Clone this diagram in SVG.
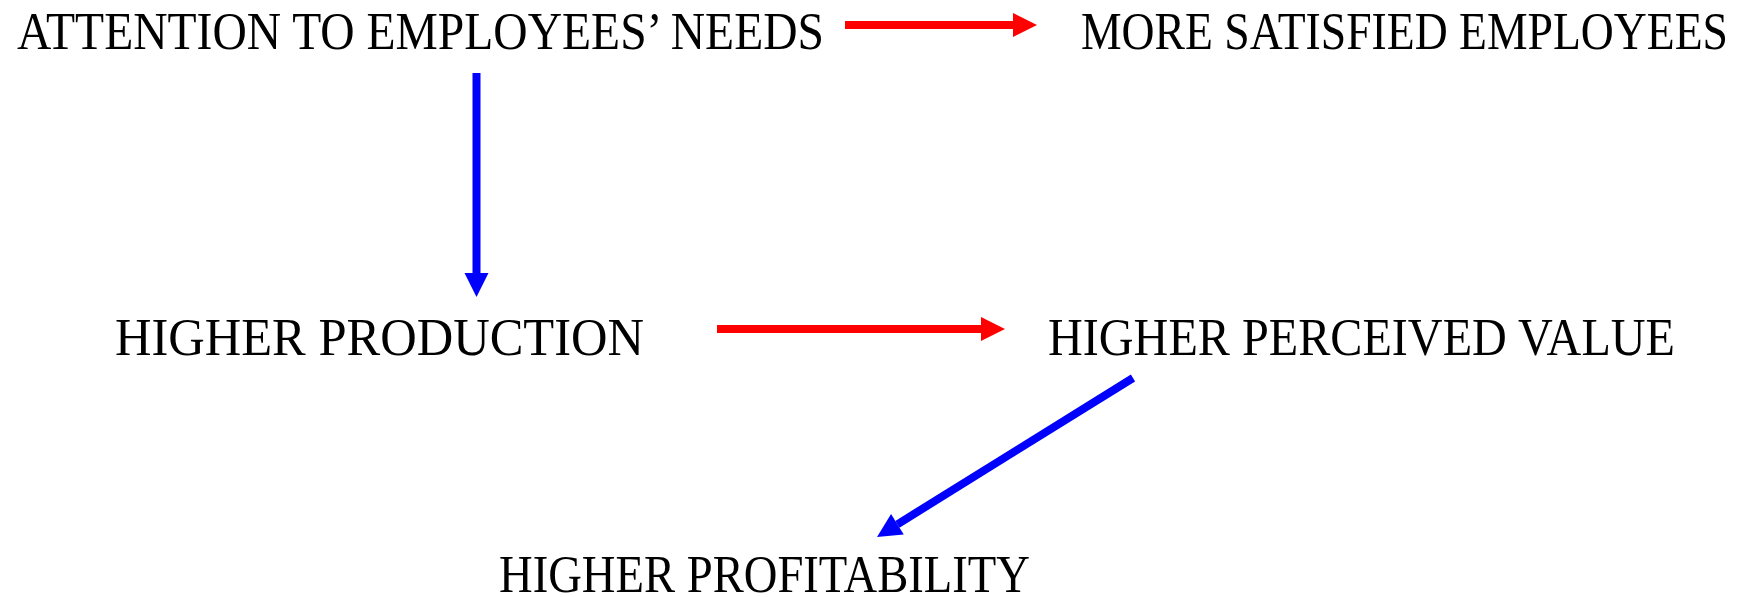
<svg xmlns="http://www.w3.org/2000/svg" width="1753" height="597" viewBox="0 0 1753 597">
<style>
.lbl{font-family:"Liberation Serif","Times New Roman",serif;font-size:52px;fill:#000}
.red{stroke:#FF0000;stroke-width:8;fill:none}
.blue{stroke:#0000FF;stroke-width:8;fill:none}
</style>
<defs>
<marker id="ar" markerUnits="userSpaceOnUse" markerWidth="24" markerHeight="24" refX="0" refY="12" orient="auto" overflow="visible">
<path d="M0,0 L24,12 L0,24 z" fill="#FF0000"/>
</marker>
<marker id="ab" markerUnits="userSpaceOnUse" markerWidth="24" markerHeight="24" refX="0" refY="12" orient="auto" overflow="visible">
<path d="M0,0 L24,12 L0,24 z" fill="#0000FF"/>
</marker>
</defs>
<rect width="1753" height="597" fill="#fff"/>
<g id="n1"><text class="lbl" x="17" y="49" textLength="807" lengthAdjust="spacingAndGlyphs">ATTENTION TO EMPLOYEES’ NEEDS</text></g>
<g id="n2"><text class="lbl" x="1081" y="49" textLength="647" lengthAdjust="spacingAndGlyphs">MORE SATISFIED EMPLOYEES</text></g>
<g id="n3"><text class="lbl" x="115" y="355" textLength="529" lengthAdjust="spacingAndGlyphs">HIGHER PRODUCTION</text></g>
<g id="n4"><text class="lbl" x="1048" y="355" textLength="627" lengthAdjust="spacingAndGlyphs">HIGHER PERCEIVED VALUE</text></g>
<g id="n5"><text class="lbl" x="499" y="592" textLength="531" lengthAdjust="spacingAndGlyphs">HIGHER PROFITABILITY</text></g>
<g id="connectors">
<line class="red" x1="845" y1="25" x2="1013" y2="25" marker-end="url(#ar)"/>
<line class="red" x1="717" y1="329" x2="981" y2="329" marker-end="url(#ar)"/>
<line class="blue" x1="476.5" y1="73" x2="476.5" y2="273" marker-end="url(#ab)"/>
<line class="blue" x1="1133" y1="378" x2="897.4" y2="524.3" marker-end="url(#ab)"/>
</g>
</svg>
